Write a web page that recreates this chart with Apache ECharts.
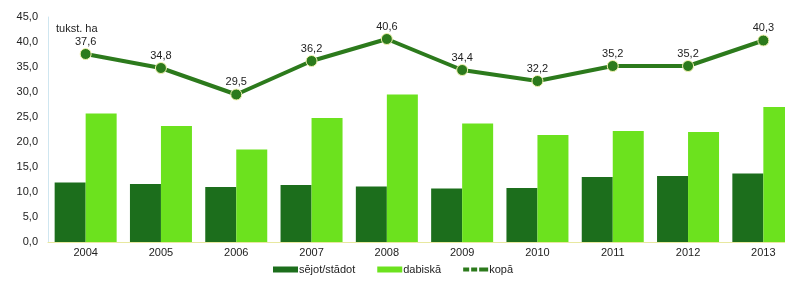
<!DOCTYPE html>
<html>
<head>
    <meta charset="utf-8">
    <title>Platības</title>
    <script src="https://cdn.jsdelivr.net/npm/echarts@6/dist/echarts.min.js"></script>
    <style>
        html, body { margin: 0; padding: 0; background: #fff; }
        #main { width: 785px; height: 282px; }
    </style>
</head>
<body>
<div id="main"></div>
<script>
    // dati
    var years = ['2004', '2005', '2006', '2007', '2008', '2009', '2010', '2011', '2012', '2013'];
    var sejot = [11.9, 11.6, 11.0, 11.4, 11.1, 10.7, 10.8, 13.0, 13.2, 13.7];
    var dabiska = [25.7, 23.2, 18.5, 24.8, 29.5, 23.7, 21.4, 22.2, 22.0, 27.0];
    var kopa = [37.6, 34.8, 29.5, 36.2, 40.6, 34.4, 32.2, 35.2, 35.2, 40.3];

    var chart = echarts.init(document.getElementById('main'));

    function fmt(v) {
        return v.toFixed(1).replace('.', ',');
    }

    var option = {
        backgroundColor: '#fff',
        animation: false,
        textStyle: { fontFamily: 'Liberation Sans, Arial, sans-serif' },
        grid: { left: 48, top: 17, width: 753, height: 225, outerBoundsMode: 'none', containLabel: false },
        legend: {
            bottom: 2,
            left: 268,
            itemWidth: 25,
            itemHeight: 6,
            itemGap: 22,
            textStyle: { fontSize: 11, color: '#222', padding: [0, 0, 0, -4] },
            data: [
                { name: 'sējot/stādot', icon: 'rect' },
                { name: 'dabiskā', icon: 'rect' },
                {
                    name: 'kopā',
                    icon: 'path://M0,1 L6,1 L6,5 L0,5 Z M8,1 L14,1 L14,5 L8,5 Z M16,1 L25,1 L25,5 L16,5 Z',
                    itemStyle: { color: '#2c7a1c', borderColor: '#2c7a1c', borderWidth: 0 }
                }
            ]
        },
        xAxis: {
            type: 'category',
            data: years,
            axisLine: { show: true, lineStyle: { color: '#e8e8a0', width: 1 } },
            axisTick: { show: false },
            axisLabel: { color: '#222', fontSize: 11, margin: 5 }
        },
        yAxis: {
            type: 'value',
            min: 0,
            max: 45,
            interval: 5,
            axisLine: { show: true, lineStyle: { color: '#cfe6f0' } },
            axisTick: { show: false },
            splitLine: { show: false },
            axisLabel: {
                color: '#222',
                fontSize: 11,
                margin: 10,
                formatter: function (v) { return fmt(v); }
            },
            name: 'tukst. ha',
            nameLocation: 'end',
            nameGap: -17,
            nameTextStyle: { color: '#222', fontSize: 11, align: 'left', padding: [0, 0, 0, 8] }
        },
        series: [
            {
                name: 'sējot/stādot',
                type: 'bar',
                data: sejot,
                barWidth: 31,
                barGap: '0%',
                itemStyle: { color: '#1c6e1c' }
            },
            {
                name: 'dabiskā',
                type: 'bar',
                data: dabiska,
                barWidth: 31,
                barGap: '0%',
                itemStyle: { color: '#6ce21e' }
            },
            {
                name: 'kopā',
                type: 'line',
                data: kopa,
                symbol: 'circle',
                symbolSize: 11,
                z: 5,
                lineStyle: { color: '#2c7a1c', width: 4 },
                itemStyle: { color: '#2c7a1c', borderColor: '#f4f4b0', borderWidth: 1 },
                label: {
                    show: true,
                    position: 'top',
                    distance: 1,
                    color: '#222',
                    fontSize: 11,
                    formatter: function (p) { return fmt(p.value); }
                }
            }
        ]
    };

    chart.setOption(option);
</script>
</body>
</html>
